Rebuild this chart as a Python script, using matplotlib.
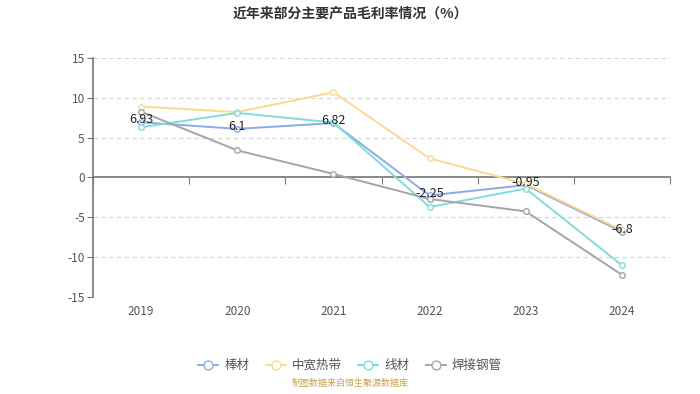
import matplotlib.pyplot as plt
import numpy as np

plt.rcParams['font.family'] = ['Noto Sans CJK SC', 'DejaVu Sans']
plt.rcParams['axes.unicode_minus'] = False

# data
years = ['2019', '2020', '2021', '2022', '2023', '2024']
bangcai = [6.93, 6.1, 6.82, -2.25, -0.95, -6.8]
zhongkuan = [8.9, 8.2, 10.7, 2.4, -0.8, -6.6]
xiancai = [6.3, 8.1, 6.9, -3.7, -1.4, -11.0]
hanjie = [8.25, 3.4, 0.45, -2.7, -4.25, -12.2]

names = ['棒材', '中宽热带', '线材', '焊接钢管']
colors = ['#8cabe6', '#fdd98c', '#7fdcdd', '#a5a5a5']
series = [bangcai, zhongkuan, xiancai, hanjie]

fig = plt.figure(figsize=(7, 3.94), dpi=100)
ax = fig.add_axes([0.133, 0.246, 0.824, 0.607])

x = np.arange(len(years))
for vals, name, c in zip(series, names, colors):
    ax.plot(x, vals, color=c, lw=1.4, marker='o', ms=4,
            mfc='white', mec=c, mew=1, label=name, zorder=3)

# labels only on the first series
for xi, v in zip(x, bangcai):
    ax.text(xi, v + 0.3, f'{v:g}', ha='center', va='center', fontsize=9,
            color='#222222', zorder=4)

ax.set_xlim(-0.5, len(years) - 0.5)
ax.set_ylim(-15, 15)
ax.set_yticks(range(-15, 16, 5))
ax.yaxis.grid(True, ls=(0, (4, 3)), color='#d5d5d5', lw=0.8)
ax.set_axisbelow(True)

for s in ['top', 'right']:
    ax.spines[s].set_visible(False)
ax.spines['left'].set_color('#777777')
ax.spines['left'].set_linewidth(1.2)
ax.spines['bottom'].set_position(('data', 0))
ax.spines['bottom'].set_color('#777777')
ax.spines['bottom'].set_linewidth(1.2)

ax.set_xticks(np.arange(-0.5, len(years), 1.0))
ax.set_xticklabels([])
ax.tick_params(axis='x', length=5, color='#777777')
ax.tick_params(axis='y', length=4, color='#777777', labelsize=8.5,
               labelcolor='#555555', pad=2)

sec = ax.secondary_xaxis(0)
sec.set_xticks(x)
sec.set_xticklabels(years)
sec.tick_params(length=0, labelsize=8.5, labelcolor='#555555', pad=6)
sec.spines['bottom'].set_visible(False)

fig.text(0.5, 0.965, '近年来部分主要产品毛利率情况（%）', ha='center', va='center',
         fontsize=10, fontweight='bold', color='#333333')

fig.legend(loc='center', bbox_to_anchor=(0.5, 0.072), ncol=4, frameon=False,
           fontsize=9, labelcolor='#555555', handlelength=1.6,
           columnspacing=1.3, handletextpad=0.5, markerscale=1.6)

fig.text(0.5, 0.015, '制图数据来自恒生聚源数据库', ha='center', va='bottom',
         fontsize=6.5, color='#c9a14e')

fig.savefig('out.png', dpi=100)
